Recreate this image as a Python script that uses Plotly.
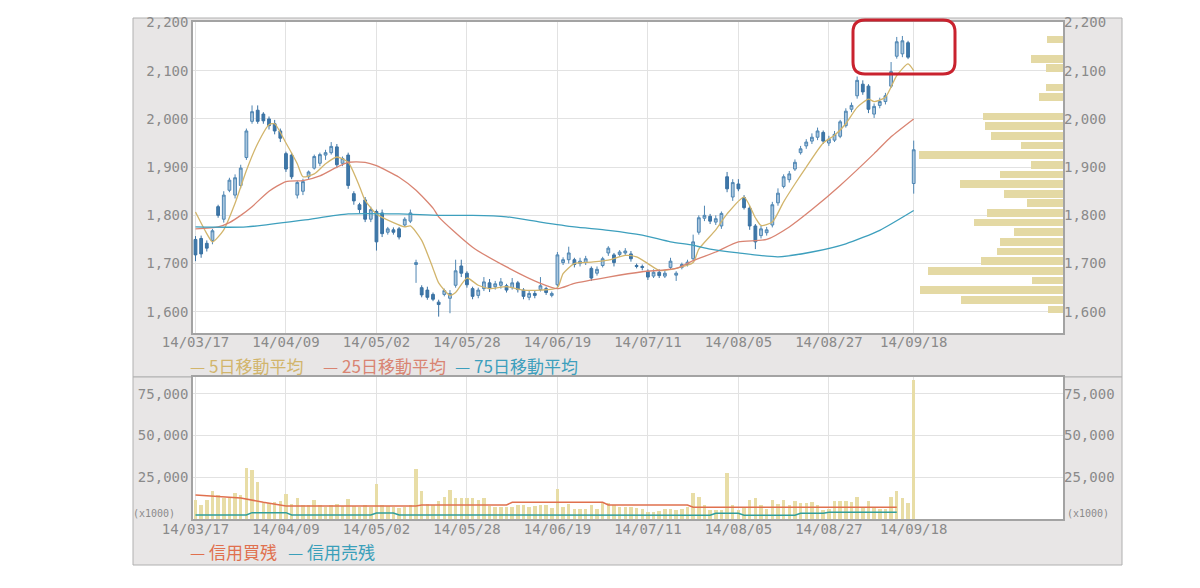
import pandas as pd
import plotly.graph_objects as go

# ---------------- data ----------------
holidays = ["2014-03-21", "2014-04-29", "2014-05-05", "2014-05-06", "2014-07-21", "2014-09-15"]
days = pd.bdate_range("2014-03-17", "2014-09-18", freq="C", holidays=holidays)
dates = [d.strftime("%y/%m/%d") for d in days]

tick_dates = ["14/03/17", "14/04/09", "14/05/02", "14/05/28", "14/06/19",
              "14/07/11", "14/08/05", "14/08/27", "14/09/18"]

opens = [1750, 1752, 1742, 1748, 1818, 1792, 1852, 1842, 1862, 1920,
         1995, 2018, 2010, 2000, 1990, 1975, 1928, 1925, 1842, 1850,
         1880, 1898, 1908, 1925, 1930, 1942, 1908, 1925, 1845, 1822,
         1832, 1792, 1808, 1805, 1765, 1770, 1772, 1780, 1788, 1698,
         1650, 1645, 1636, 1620, 1636, 1628, 1655, 1695, 1680, 1648,
         1634, 1648, 1660, 1652, 1655, 1654, 1650, 1660, 1645, 1630,
         1638, 1646, 1648, 1634, 1656, 1702, 1708, 1708, 1700, 1702,
         1690, 1680, 1696, 1722, 1718, 1719, 1722, 1720, 1696, 1694,
         1684, 1674, 1682, 1674, 1692, 1676, 1692, 1698, 1710, 1765,
         1794, 1798, 1786, 1778, 1880, 1838, 1865, 1837, 1815, 1778,
         1758, 1764, 1780, 1826, 1860, 1874, 1896, 1930, 1944, 1954,
         1962, 1972, 1950, 1956, 1964, 1986, 2020, 2048, 2072, 2068,
         2010, 2028, 2036, 2068, 2130, 2135, 2158, 1866]
highs = [1757, 1758, 1748, 1772, 1822, 1850, 1878, 1885, 1905, 1980,
         2028, 2028, 2014, 2005, 1998, 1980, 1932, 1930, 1872, 1876,
         1893, 1926, 1930, 1936, 1952, 1948, 1922, 1930, 1850, 1826,
         1838, 1818, 1812, 1812, 1776, 1775, 1776, 1796, 1812, 1708,
         1655, 1652, 1640, 1625, 1648, 1645, 1708, 1708, 1684, 1652,
         1650, 1672, 1668, 1664, 1670, 1658, 1670, 1664, 1649, 1645,
         1644, 1672, 1652, 1642, 1724, 1713, 1735, 1712, 1712, 1716,
         1694, 1694, 1714, 1736, 1722, 1728, 1732, 1726, 1700, 1698,
         1688, 1688, 1688, 1686, 1712, 1684, 1702, 1708, 1760, 1800,
         1820, 1803, 1800, 1808, 1890, 1875, 1875, 1842, 1820, 1782,
         1778, 1776, 1828, 1856, 1885, 1892, 1916, 1944, 1958, 1970,
         1982, 1976, 1965, 1975, 1998, 2022, 2034, 2088, 2080, 2072,
         2032, 2044, 2054, 2118, 2170, 2172, 2162, 1955]
lows = [1705, 1712, 1725, 1740, 1795, 1785, 1848, 1835, 1856, 1915,
        1990, 1990, 1990, 1978, 1968, 1952, 1890, 1875, 1835, 1842,
        1875, 1895, 1902, 1915, 1926, 1898, 1902, 1855, 1822, 1805,
        1786, 1786, 1727, 1755, 1760, 1760, 1750, 1776, 1784, 1660,
        1630, 1625, 1622, 1590, 1632, 1597, 1650, 1672, 1650, 1626,
        1628, 1643, 1641, 1646, 1648, 1640, 1646, 1640, 1626, 1624,
        1628, 1642, 1635, 1630, 1652, 1697, 1700, 1692, 1694, 1697,
        1664, 1675, 1692, 1716, 1694, 1714, 1718, 1704, 1690, 1686,
        1666, 1670, 1670, 1670, 1688, 1664, 1688, 1694, 1706, 1760,
        1788, 1782, 1780, 1772, 1848, 1830, 1850, 1812, 1770, 1730,
        1752, 1758, 1775, 1820, 1856, 1868, 1892, 1926, 1938, 1948,
        1956, 1948, 1944, 1952, 1960, 1982, 2014, 2042, 2050, 2012,
        2002, 2022, 2030, 2064, 2125, 2128, 2124, 1845]
closes = [1718, 1720, 1732, 1768, 1800, 1842, 1873, 1878, 1898, 1975,
          2015, 1995, 1996, 1986, 1975, 1960, 1896, 1880, 1868, 1870,
          1890, 1922, 1926, 1930, 1943, 1905, 1918, 1862, 1830, 1812,
          1792, 1812, 1745, 1762, 1772, 1765, 1755, 1792, 1805, 1702,
          1635, 1630, 1626, 1615, 1644, 1638, 1685, 1680, 1656, 1632,
          1645, 1662, 1648, 1658, 1662, 1645, 1660, 1646, 1632, 1638,
          1634, 1654, 1640, 1638, 1718, 1708, 1722, 1698, 1705, 1710,
          1670, 1688, 1710, 1732, 1702, 1724, 1726, 1710, 1694, 1692,
          1672, 1682, 1675, 1680, 1705, 1680, 1698, 1703, 1745, 1795,
          1800, 1788, 1793, 1804, 1855, 1868, 1855, 1816, 1778, 1745,
          1772, 1770, 1822, 1846, 1880, 1886, 1910, 1938, 1952, 1962,
          1975, 1954, 1958, 1968, 1994, 2016, 2028, 2080, 2056, 2020,
          2026, 2036, 2048, 2098, 2160, 2162, 2128, 1936]

# moving averages (day index, value)
ma5_idx = [0, 2, 3, 5, 7, 9, 11, 13, 14, 16, 18, 19, 21, 23, 25, 27, 29, 30, 32, 35,
           37, 38, 40, 42, 43, 45, 46, 48, 50, 52, 55, 58, 61, 64, 65, 67, 70, 73, 76, 78,
           80, 82, 85, 88, 89, 92, 94, 97, 99, 100, 102, 104, 106, 108, 111, 113, 115, 117,
           119, 120, 122, 124, 126, 127]
ma5_val = [1807, 1762, 1745, 1770, 1825, 1893, 1949, 1988, 1990, 1950, 1907, 1880, 1886,
           1907, 1921, 1910, 1860, 1831, 1803, 1785, 1776, 1778, 1748, 1690, 1660, 1634,
           1640, 1670, 1655, 1648, 1652, 1645, 1645, 1650, 1679, 1700, 1703, 1707, 1717,
           1714, 1700, 1686, 1690, 1702, 1730, 1770, 1803, 1838, 1795, 1779, 1786, 1828,
           1865, 1900, 1950, 1966, 1990, 2024, 2041, 2036, 2045, 2090, 2114, 2100]
ma25_idx = [0, 4, 6, 8, 10, 13, 16, 19, 22, 25, 27, 30, 32, 36, 39, 42, 43, 49, 55, 61,
            64, 67, 73, 79, 85, 88, 92, 96, 101, 105, 109, 114, 120, 123, 127]
ma25_val = [1772, 1776, 1785, 1800, 1818, 1850, 1870, 1872, 1882, 1900, 1910, 1910, 1903,
            1879, 1852, 1815, 1797, 1734, 1693, 1659, 1648, 1659, 1672, 1683, 1690, 1706,
            1724, 1745, 1750, 1776, 1812, 1862, 1928, 1963, 2000]
ma75_idx = [0, 9, 19, 27, 36, 43, 49, 55, 61, 67, 73, 79, 84, 88, 91, 96, 103, 109, 115, 121, 127]
ma75_val = [1776, 1776, 1790, 1803, 1803, 1800, 1800, 1797, 1786, 1776, 1769, 1759, 1745,
            1738, 1730, 1722, 1714, 1724, 1741, 1769, 1810]

# volume by price band (price-band centre, volume)
prof_price = [2165, 2125, 2105, 2065, 2045, 2005, 1985, 1965, 1945, 1925, 1905, 1885, 1865,
              1845, 1825, 1805, 1785, 1765, 1745, 1725, 1705, 1685, 1665, 1645, 1625, 1605]
prof_vol = [47, 97, 52, 52, 72, 239, 235, 217, 127, 432, 97, 189, 309, 177, 109, 229, 267,
            147, 189, 197, 247, 405, 94, 430, 305, 44]

# daily volume (x1000 shares)
volume = [11400, 8400, 11400, 17000, 14400, 12400, 12400, 15800, 14400, 30400,
          29400, 22400, 9800, 9800, 10400, 11000, 15000, 9000, 12400, 8600,
          8400, 11400, 8400, 7400, 8400, 9000, 7600, 11800, 8000, 7400,
          8400, 7000, 21000, 8600, 7800, 7000, 6400, 7400, 8400, 30200,
          17000, 9000, 8400, 11000, 13400, 17400, 12400, 12400, 12400, 12400,
          11400, 12400, 8000, 7400, 7400, 7400, 7400, 8600, 8400, 7000,
          7800, 8400, 8400, 6400, 17800, 7000, 8800, 5800, 5800, 5800,
          8400, 5800, 10400, 9400, 8400, 7400, 7400, 7000, 6400, 5800,
          4400, 4400, 5000, 5800, 5800, 5400, 5800, 7400, 15800, 13400,
          8400, 5400, 5400, 5400, 27400, 8400, 5400, 7000, 11400, 12400,
          8400, 5800, 11400, 9000, 11400, 8400, 11000, 9800, 9800, 10400,
          8400, 5400, 5800, 11000, 11000, 11000, 10400, 13400, 7400, 11000,
          7400, 5800, 5800, 13400, 17000, 12800, 9400, 83000]

# margin balances (day index, x1000 shares)
buy_idx = [0, 4, 8, 12, 16, 39, 40, 55, 56, 72, 73, 87, 88, 124]
buy_val = [14400, 13600, 12600, 10000, 7800, 7800, 8400, 8400, 10000, 10000, 8400, 8400, 7000, 7000]
sell_idx = [0, 9, 10, 16, 17, 31, 32, 35, 36, 57, 91, 92, 96, 97, 106, 107, 111, 112, 124]
sell_val = [2400, 2400, 3800, 3800, 2400, 2400, 3600, 3600, 2400, 2200, 2200, 3400, 3400,
            2200, 2200, 3400, 3400, 4000, 4000]

price_ticks = [1600, 1700, 1800, 1900, 2000, 2100, 2200]
vol_ticks = [0, 25000, 50000, 75000]
vol_ticktext = ["", "25,000", "50,000", "75,000"]
vol_unit = "(x1000)"

# ---------------- styling ----------------
W, H = 1200, 588
TICK_FONT = dict(family="DejaVu Sans Mono", size=14, color="#8a8a8a")
GRID = "#e2e2e2"
FRAME = "#a3a3a3"
C_MA5, C_MA25, C_MA75 = "#d2b56c", "#d98472", "#3d9fbd"
C_BUY, C_SELL = "#e0704e", "#2f9e9a"

def px_x(p):
    return p / W

def px_y(p):
    return 1 - p / H

X0, X1 = 193, 1063
TOP_Y0, TOP_Y1 = 22, 333
BOT_Y0, BOT_Y1 = 377, 519
xdom = [px_x(X0), px_x(X1)]
xrange_ = [-0.44, 153.4]

fig = go.Figure()

fig.add_trace(go.Bar(
    x=prof_vol, y=prof_price, orientation="h", width=16,
    marker=dict(color="#e4d9a4", line=dict(width=0)),
    xaxis="x2", yaxis="y2", showlegend=False, hoverinfo="skip"))

fig.add_trace(go.Candlestick(
    x=dates, open=opens, high=highs, low=lows, close=closes,
    increasing=dict(line=dict(color="#4f86b3", width=1), fillcolor="#a9c6de"),
    decreasing=dict(line=dict(color="#3a72a3", width=1), fillcolor="#3f78a9"),
    whiskerwidth=0, showlegend=False, xaxis="x", yaxis="y"))

for idx, val, col in [(ma5_idx, ma5_val, C_MA5), (ma25_idx, ma25_val, C_MA25),
                      (ma75_idx, ma75_val, C_MA75)]:
    fig.add_trace(go.Scatter(
        x=[dates[i] for i in idx], y=val, mode="lines",
        line=dict(color=col, width=1.3, shape="spline", smoothing=0.6),
        showlegend=False, xaxis="x", yaxis="y", hoverinfo="skip"))

fig.add_trace(go.Bar(
    x=dates, y=volume, marker=dict(color="#e8dda6", line=dict(width=0)),
    width=0.62, xaxis="x3", yaxis="y3", showlegend=False))

fig.add_trace(go.Scatter(
    x=[dates[i] for i in buy_idx], y=buy_val, mode="lines",
    line=dict(color=C_BUY, width=1.5), xaxis="x3", yaxis="y4", showlegend=False))
fig.add_trace(go.Scatter(
    x=[dates[i] for i in sell_idx], y=sell_val, mode="lines",
    line=dict(color=C_SELL, width=1.5), xaxis="x3", yaxis="y4", showlegend=False))

shapes = [
    # grey panels
    dict(type="rect", xref="paper", yref="paper", x0=px_x(133), x1=px_x(1122),
         y0=px_y(377), y1=px_y(18), fillcolor="#e8e6e6", line=dict(color="#b0b0b0", width=1),
         layer="below"),
    dict(type="rect", xref="paper", yref="paper", x0=px_x(133), x1=px_x(1122),
         y0=px_y(565), y1=px_y(377), fillcolor="#e8e6e6", line=dict(color="#b0b0b0", width=1),
         layer="below"),
    # white plot areas
    dict(type="rect", xref="paper", yref="paper", x0=xdom[0], x1=xdom[1],
         y0=px_y(TOP_Y1), y1=px_y(TOP_Y0), fillcolor="white", line=dict(width=0), layer="below"),
    dict(type="rect", xref="paper", yref="paper", x0=xdom[0], x1=xdom[1],
         y0=px_y(BOT_Y1), y1=px_y(BOT_Y0), fillcolor="white", line=dict(width=0), layer="below"),
]

# red rounded highlight box
rx0, rx1, ry0, ry1, r = 853, 955, 20, 74, 12
path = (f"M {px_x(rx0 + r)},{px_y(ry0)} L {px_x(rx1 - r)},{px_y(ry0)} "
        f"Q {px_x(rx1)},{px_y(ry0)} {px_x(rx1)},{px_y(ry0 + r)} "
        f"L {px_x(rx1)},{px_y(ry1 - r)} Q {px_x(rx1)},{px_y(ry1)} {px_x(rx1 - r)},{px_y(ry1)} "
        f"L {px_x(rx0 + r)},{px_y(ry1)} Q {px_x(rx0)},{px_y(ry1)} {px_x(rx0)},{px_y(ry1 - r)} "
        f"L {px_x(rx0)},{px_y(ry0 + r)} Q {px_x(rx0)},{px_y(ry0)} {px_x(rx0 + r)},{px_y(ry0)} Z")
shapes.append(dict(type="path", xref="paper", yref="paper", path=path,
                   line=dict(color="#c9222e", width=3), layer="above"))

legend_font = "Noto Sans CJK JP"
annotations = []
for txt, col, xpos, ypos in [("— 5日移動平均", C_MA5, 188, 365),
                             ("— 25日移動平均", C_MA25, 321, 365),
                             ("— 75日移動平均", C_MA75, 453, 365),
                             ("— 信用買残", C_BUY, 188, 551),
                             ("— 信用売残", "#3a9fba", 286, 551)]:
    annotations.append(dict(text=txt, x=px_x(xpos), y=px_y(ypos), xref="paper", yref="paper",
                            xanchor="left", yanchor="middle", showarrow=False,
                            font=dict(family=legend_font, size=17, color=col)))

# volume unit labels at the zero line (both sides)
unit_font = dict(family="DejaVu Sans Mono", size=10, color="#8a8a8a")
annotations.append(dict(text=vol_unit, x=px_x(177), y=px_y(513), xref="paper", yref="paper",
                        xanchor="right", yanchor="middle", showarrow=False, font=unit_font))
annotations.append(dict(text=vol_unit, x=px_x(1065), y=px_y(513), xref="paper", yref="paper",
                        xanchor="left", yanchor="middle", showarrow=False, font=unit_font))

axis_common = dict(showline=True, linecolor=FRAME, linewidth=1.5, mirror=True, zeroline=False,
                   tickfont=TICK_FONT, ticks="", automargin=False)

fig.update_layout(
    width=W, height=H, margin=dict(l=0, r=0, t=0, b=0, autoexpand=False),
    paper_bgcolor="white", plot_bgcolor="rgba(0,0,0,0)",
    showlegend=False, bargap=0,
    shapes=shapes, annotations=annotations,
    xaxis=dict(domain=xdom, anchor="y", type="category", range=xrange_,
               tickmode="array", tickvals=tick_dates, ticktext=tick_dates,
               showgrid=True, gridcolor=GRID, rangeslider=dict(visible=False),
               ticklabelstandoff=-5, **axis_common),
    yaxis=dict(domain=[px_y(TOP_Y1), px_y(TOP_Y0)], anchor="x", range=[1556, 2201],
               tickvals=price_ticks, tickformat=",", showgrid=True, gridcolor=GRID,
               **axis_common),
    xaxis2=dict(overlaying="x", anchor="y", range=[2610, 0], visible=False, automargin=False),
    yaxis2=dict(overlaying="y", anchor="x", side="right", matches="y",
                tickvals=price_ticks, tickformat=",", showgrid=False,
                zeroline=False, tickfont=TICK_FONT, showline=False, automargin=False),
    xaxis3=dict(domain=xdom, anchor="y3", type="category", range=xrange_,
                tickmode="array", tickvals=tick_dates, ticktext=tick_dates,
                showgrid=True, gridcolor=GRID, ticklabelstandoff=-4, **axis_common),
    yaxis3=dict(domain=[px_y(BOT_Y1), px_y(BOT_Y0)], anchor="x3", range=[0, 85000],
                tickvals=vol_ticks, ticktext=vol_ticktext, showgrid=True, gridcolor=GRID,
                **axis_common),
    yaxis4=dict(overlaying="y3", anchor="x3", side="right", matches="y3",
                tickvals=vol_ticks, ticktext=vol_ticktext, showgrid=False,
                zeroline=False, tickfont=TICK_FONT, showline=False, automargin=False),
)

fig.write_html("out.html", config={"displayModeBar": False},
               post_script="document.body.style.margin='0px';document.body.style.overflow='hidden';")
